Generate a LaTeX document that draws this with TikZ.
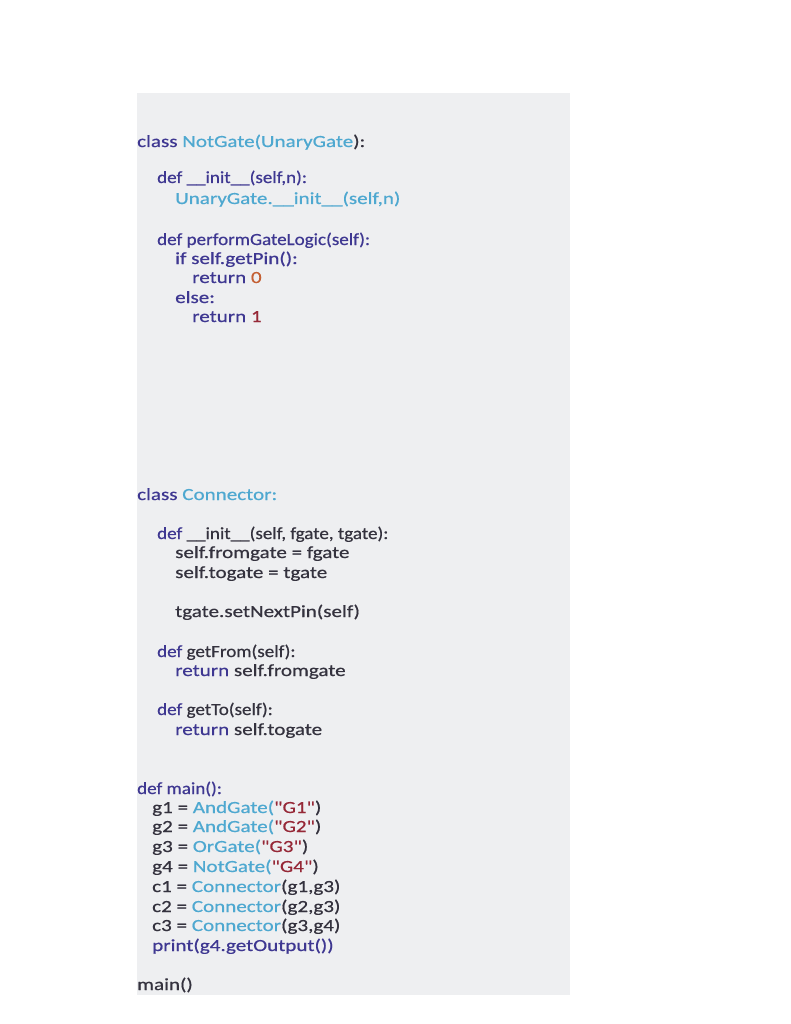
\documentclass[tikz,border=0pt]{standalone}
\usepackage{fontspec}
\setmainfont{Carlito}[FakeStretch=1.24]
\newfontfamily\codefont{Carlito}[FakeStretch=1.24,FakeBold=0.6]
\newfontfamily\deffont{Carlito}[FakeStretch=1.12,FakeBold=0.6]
\definecolor{bgpanel}{RGB}{238,239,241}
\definecolor{kwc}{RGB}{62,55,145}
\definecolor{clc}{RGB}{78,168,208}
\definecolor{numa}{RGB}{196,96,52}
\definecolor{numb}{RGB}{150,40,55}
\definecolor{txtc}{RGB}{52,50,62}
\newcommand{\kw}[1]{\textcolor{kwc}{#1}}
\newcommand{\cl}[1]{\textcolor{clc}{#1}}
\newcommand{\st}[1]{\textcolor{numb}{#1}}
\begin{document}
\begin{tikzpicture}[x=1pt,y=-1pt,
  code/.style={anchor=base west, inner sep=0pt, text=txtc, font=\codefont\fontsize{17}{20}\selectfont},
  defline/.style={code, font=\deffont\fontsize{17}{20}\selectfont}]
\useasboundingbox (0,0) rectangle (791,1024);
\fill[white] (0,0) rectangle (791,1024);
\fill[bgpanel] (137,93) rectangle (570,995);
% NotGate
\node[code] (l1) at (137,147) {\kw{class} \cl{NotGate(UnaryGate}):};
\node[defline] (l2) at (157,183) {\kw{def \_\_init\_\_(self,n):}};
\node[code] (l3) at (175,204) {\cl{UnaryGate.\_\_init\_\_(self,n)}};
\node[defline] (l4) at (157,245) {\kw{def performGateLogic(self):}};
\node[code] (l5) at (175,264) {\kw{if self.getPin():}};
\node[code] (l6) at (192,283) {\kw{return} \textcolor{numa}{0}};
\node[code] (l7) at (175,303) {\kw{else:}};
\node[code] (l8) at (192,322) {\kw{return} \st{1}};
% Connector
\node[code] (l9) at (137,500) {\kw{class} \cl{Connector:}};
\node[defline] (l10) at (157,539) {\kw{def} \_\_init\_\_(self, fgate, tgate):};
\node[code] (l11) at (175,558) {self.fromgate = fgate};
\node[code] (l12) at (175,578) {self.togate = tgate};
\node[code] (l13) at (175,617) {tgate.setNextPin(self)};
\node[defline] (l14) at (157,657) {\kw{def} getFrom(self):};
\node[code] (l15) at (175,676) {\kw{return} self.fromgate};
\node[defline] (l16) at (157,715) {\kw{def} getTo(self):};
\node[code] (l17) at (175,735) {\kw{return} self.togate};
% main
\node[defline] (l18) at (137,794) {\kw{def main():}};
\node[code] (l19) at (152,813) {g1 = \cl{AndGate(}\st{"G1"})};
\node[code] (l20) at (152,832) {g2 = \cl{AndGate(}\st{"G2"})};
\node[code] (l21) at (152,852) {g3 = \cl{OrGate(}\st{"G3"})};
\node[code] (l22) at (152,872) {g4 = \cl{NotGate(}\st{"G4"})};
\node[code] (l23) at (152,892) {c1 = \cl{Connector}(g1,g3)};
\node[code] (l24) at (152,912) {c2 = \cl{Connector}(g2,g3)};
\node[code] (l25) at (152,931) {c3 = \cl{Connector}(g3,g4)};
\node[code] (l26) at (152,951) {\kw{print(g4.getOutput())}};
\node[code] (l27) at (137,990) {main()};
\end{tikzpicture}
\end{document}
